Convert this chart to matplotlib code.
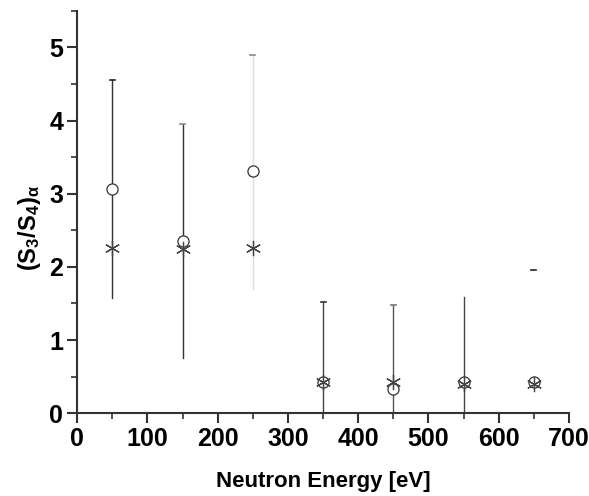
import matplotlib
matplotlib.use("Agg")
import matplotlib.pyplot as plt
from matplotlib.ticker import MultipleLocator

plt.rcParams['font.family'] = ['Liberation Sans', 'DejaVu Sans']
plt.rcParams['mathtext.fontset'] = 'custom'
plt.rcParams['mathtext.rm'] = 'Liberation Sans'
plt.rcParams['mathtext.bf'] = 'Liberation Sans:bold'
plt.rcParams['mathtext.it'] = 'Liberation Sans:italic'

energy = [50, 150, 250, 350, 450, 550, 650]
ratio_circle = [3.06, 2.36, 3.31, 0.42, 0.33, 0.42, 0.42]
err_up = [1.49, 1.59, 1.59, 1.10, 1.15, 1.18, 1.54]
err_down = [1.49, 1.61, 1.61, 1.10, 1.15, 1.18, 0.0]
ratio_star = [2.26, 2.25, 2.26, 0.42, 0.43, 0.40, 0.40]

bar_colors = ['#333333', '#333333', '#dddddd', '#444444', '#555555', '#444444', '#ffffff']
cap_colors = ['#222222', '#888888', '#888888', '#333333', '#777777', '#ffffff', '#222222']

fig = plt.figure(figsize=(5.89, 4.96), dpi=100)
ax = fig.add_axes([0.131, 0.167, 0.835, 0.811])

for x, y, u, d, bc, cc in zip(energy, ratio_circle, err_up, err_down, bar_colors, cap_colors):
    ax.plot([x, x], [y - d, y + u], color=bc, lw=1.0, zorder=1, clip_on=True)
    ax.plot([x - 3.5, x + 3.5], [y + u, y + u], color=cc, lw=1.2, zorder=1)

ax.plot(energy, ratio_circle, linestyle='none', marker='o', markersize=8,
        markerfacecolor='white', markeredgecolor='#333333', markeredgewidth=0.9, zorder=3)
ax.plot(energy, ratio_star, linestyle='none', marker=(6, 2, 0), markersize=11,
        color='#444444', markeredgewidth=0.9, zorder=4)

ax.set_xlim(0, 700)
ax.set_ylim(0, 5.5)
ax.xaxis.set_major_locator(MultipleLocator(100))
ax.xaxis.set_minor_locator(MultipleLocator(50))
ax.yaxis.set_major_locator(MultipleLocator(1))
ax.yaxis.set_minor_locator(MultipleLocator(0.5))

for s in ['top', 'right']:
    ax.spines[s].set_visible(False)
for s in ['left', 'bottom']:
    ax.spines[s].set_linewidth(1.5)
    ax.spines[s].set_color('#333333')

ax.tick_params(which='major', direction='out', length=7, width=1.5, color='#333333',
               labelsize=18, pad=3)
ax.tick_params(which='minor', direction='out', length=4, width=1.2, color='#333333')
for lab in ax.get_xticklabels() + ax.get_yticklabels():
    lab.set_fontweight('bold')

ax.set_xlabel('Neutron Energy [eV]', fontsize=16, fontweight='bold', labelpad=14)
ax.set_ylabel(r'$\mathbf{(S_3/S_4)_{\alpha}}$', fontsize=17, labelpad=8)
ax.yaxis.set_label_coords(-0.07, 0.46)

fig.savefig('out.png', dpi=100)
